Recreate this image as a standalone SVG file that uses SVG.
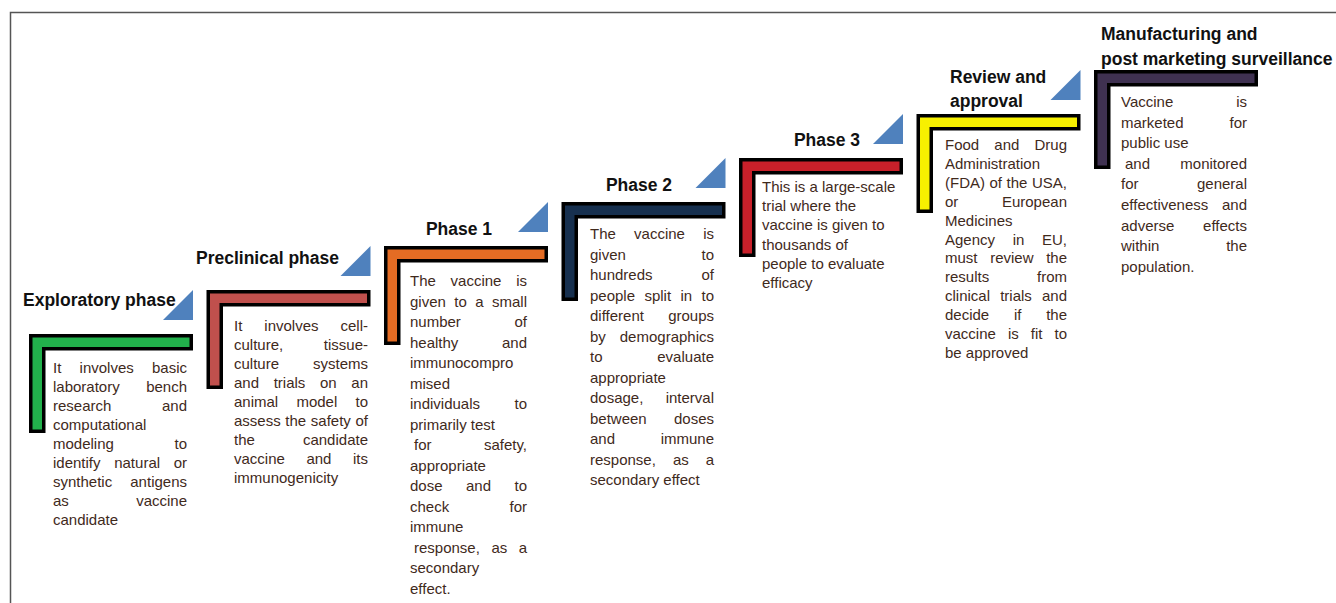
<svg xmlns="http://www.w3.org/2000/svg" xmlns:xlink="http://www.w3.org/1999/xlink" width="1336" height="603" viewBox="0 0 1336 603">
<style>
.body{font-family:"Liberation Sans",Arial,sans-serif;font-size:15px;fill:#3f2a1c}
.title{font-family:"Liberation Sans",Arial,sans-serif;font-size:17.5px;font-weight:bold;fill:#111}
.tri{fill:#4f81bd}
.L{stroke:#000;stroke-width:3.5;stroke-linejoin:miter}
.e{text-anchor:end}
</style>
<defs>
<path id="Lshape" d="M0,0 H160.5 V13 H13 V95.5 H0 Z"/>
<path id="tri" d="M-30,0 H0 V-30 Z"/>
</defs>
<rect width="1336" height="603" fill="#fff"/>
<path d="M10.5,603 V12.5 H1336" fill="none" stroke="#555" stroke-width="1.5"/>

<g id="connectors">
<use xlink:href="#tri" class="tri" transform="translate(193,320)"/>
<use xlink:href="#tri" class="tri" transform="translate(370.5,276)"/>
<use xlink:href="#tri" class="tri" transform="translate(548,232)"/>
<use xlink:href="#tri" class="tri" transform="translate(725.5,188)"/>
<use xlink:href="#tri" class="tri" transform="translate(903,144)"/>
<use xlink:href="#tri" class="tri" transform="translate(1080.5,100)"/>
</g>

<g id="exploratory">
<use xlink:href="#Lshape" class="L" fill="#22b14c" transform="translate(30.75,335.75)"/>
<text class="title" x="23" y="306">Exploratory phase</text>
<text class="body" y="373"><tspan x="53">It</tspan><tspan x="79.6">involves</tspan><tspan x="187" class="e">basic</tspan></text>
<text class="body" y="392"><tspan x="53">laboratory</tspan><tspan x="187" class="e">bench</tspan></text>
<text class="body" y="411"><tspan x="53">research</tspan><tspan x="187" class="e">and</tspan></text>
<text class="body" x="53" y="430">computational</text>
<text class="body" y="449"><tspan x="53">modeling</tspan><tspan x="187" class="e">to</tspan></text>
<text class="body" y="468"><tspan x="53">identify</tspan><tspan x="114.2">natural</tspan><tspan x="187" class="e">or</tspan></text>
<text class="body" y="487"><tspan x="53">synthetic</tspan><tspan x="187" class="e">antigens</tspan></text>
<text class="body" y="506"><tspan x="53">as</tspan><tspan x="187" class="e">vaccine</tspan></text>
<text class="body" x="53" y="525">candidate</text>
</g>

<g id="preclinical">
<use xlink:href="#Lshape" class="L" fill="#c0504d" transform="translate(208.25,291.75)"/>
<text class="title" x="196" y="264">Preclinical phase</text>
<text class="body" y="331"><tspan x="234">It</tspan><tspan x="264.3">involves</tspan><tspan x="368" class="e">cell-</tspan></text>
<text class="body" y="350"><tspan x="234">culture,</tspan><tspan x="368" class="e">tissue-</tspan></text>
<text class="body" y="369"><tspan x="234">culture</tspan><tspan x="368" class="e">systems</tspan></text>
<text class="body" y="388"><tspan x="234">and</tspan><tspan x="273.7">trials</tspan><tspan x="320">on</tspan><tspan x="368" class="e">an</tspan></text>
<text class="body" y="407"><tspan x="234">animal</tspan><tspan x="296.4">model</tspan><tspan x="368" class="e">to</tspan></text>
<text class="body" y="426"><tspan x="234">assess</tspan><tspan x="285.3">the</tspan><tspan x="310.8">safety</tspan><tspan x="368" class="e">of</tspan></text>
<text class="body" y="445"><tspan x="234">the</tspan><tspan x="368" class="e">candidate</tspan></text>
<text class="body" y="464"><tspan x="234">vaccine</tspan><tspan x="306.4">and</tspan><tspan x="368" class="e">its</tspan></text>
<text class="body" x="234" y="483">immunogenicity</text>
</g>

<g id="phase1">
<use xlink:href="#Lshape" class="L" fill="#e46c24" transform="translate(385.75,247.75)"/>
<text class="title" x="459" y="235" text-anchor="middle">Phase 1</text>
<text class="body" y="286"><tspan x="410">The</tspan><tspan x="450.6">vaccine</tspan><tspan x="527" class="e">is</tspan></text>
<text class="body" y="306.5"><tspan x="410">given</tspan><tspan x="454.3">to</tspan><tspan x="475.2">a</tspan><tspan x="527" class="e">small</tspan></text>
<text class="body" y="327"><tspan x="410">number</tspan><tspan x="527" class="e">of</tspan></text>
<text class="body" y="347.5"><tspan x="410">healthy</tspan><tspan x="527" class="e">and</tspan></text>
<text class="body" x="410" y="368">immunocompro</text>
<text class="body" x="410" y="388.5">mised</text>
<text class="body" y="409"><tspan x="410">individuals</tspan><tspan x="527" class="e">to</tspan></text>
<text class="body" x="410" y="429.5">primarily test</text>
<text class="body" y="450"><tspan x="414">for</tspan><tspan x="527" class="e">safety,</tspan></text>
<text class="body" x="410" y="470.5">appropriate</text>
<text class="body" y="491"><tspan x="410">dose</tspan><tspan x="466">and</tspan><tspan x="527" class="e">to</tspan></text>
<text class="body" y="511.5"><tspan x="410">check</tspan><tspan x="527" class="e">for</tspan></text>
<text class="body" x="410" y="532">immune</text>
<text class="body" y="552.5"><tspan x="414">response,</tspan><tspan x="491.4">as</tspan><tspan x="527" class="e">a</tspan></text>
<text class="body" x="410" y="573">secondary</text>
<text class="body" x="410" y="593.5">effect.</text>
</g>

<g id="phase2">
<use xlink:href="#Lshape" class="L" fill="#17304f" transform="translate(563.25,203.75)"/>
<text class="title" x="639" y="191" text-anchor="middle">Phase 2</text>
<text class="body" y="239"><tspan x="590">The</tspan><tspan x="634.1">vaccine</tspan><tspan x="714" class="e">is</tspan></text>
<text class="body" y="259.5"><tspan x="590">given</tspan><tspan x="714" class="e">to</tspan></text>
<text class="body" y="280"><tspan x="590">hundreds</tspan><tspan x="714" class="e">of</tspan></text>
<text class="body" y="300.5"><tspan x="590">people</tspan><tspan x="644.4">split</tspan><tspan x="680.4">in</tspan><tspan x="714" class="e">to</tspan></text>
<text class="body" y="321"><tspan x="590">different</tspan><tspan x="714" class="e">groups</tspan></text>
<text class="body" y="341.5"><tspan x="590">by</tspan><tspan x="714" class="e">demographics</tspan></text>
<text class="body" y="362"><tspan x="590">to</tspan><tspan x="714" class="e">evaluate</tspan></text>
<text class="body" x="590" y="382.5">appropriate</text>
<text class="body" y="403"><tspan x="590">dosage,</tspan><tspan x="714" class="e">interval</tspan></text>
<text class="body" y="423.5"><tspan x="590">between</tspan><tspan x="714" class="e">doses</tspan></text>
<text class="body" y="444"><tspan x="590">and</tspan><tspan x="714" class="e">immune</tspan></text>
<text class="body" y="464.5"><tspan x="590">response,</tspan><tspan x="672.9">as</tspan><tspan x="714" class="e">a</tspan></text>
<text class="body" x="590" y="485">secondary effect</text>
</g>

<g id="phase3">
<use xlink:href="#Lshape" class="L" fill="#c8202a" transform="translate(740.75,159.75)"/>
<text class="title" x="827" y="146" text-anchor="middle">Phase 3</text>
<text class="body" x="762" y="192">This is a large-scale</text>
<text class="body" x="762" y="211.2">trial where the</text>
<text class="body" x="762" y="230.4">vaccine is given to</text>
<text class="body" x="762" y="249.6">thousands of</text>
<text class="body" x="762" y="268.8">people to evaluate</text>
<text class="body" x="762" y="288">efficacy</text>
</g>

<g id="review">
<use xlink:href="#Lshape" class="L" fill="#f7f000" transform="translate(918.25,115.75)"/>
<text class="title" x="950" y="83">Review and</text>
<text class="title" x="950" y="107">approval</text>
<text class="body" y="150"><tspan x="945">Food</tspan><tspan x="994.3">and</tspan><tspan x="1067" class="e">Drug</tspan></text>
<text class="body" x="945" y="168.9">Administration</text>
<text class="body" y="187.8"><tspan x="945">(FDA)</tspan><tspan x="989.5">of</tspan><tspan x="1006.6">the</tspan><tspan x="1067" class="e">USA,</tspan></text>
<text class="body" y="206.7"><tspan x="945">or</tspan><tspan x="1067" class="e">European</tspan></text>
<text class="body" x="945" y="225.6">Medicines</text>
<text class="body" y="244.5"><tspan x="945">Agency</tspan><tspan x="1012.7">in</tspan><tspan x="1067" class="e">EU,</tspan></text>
<text class="body" y="263.4"><tspan x="945">must</tspan><tspan x="990.2">review</tspan><tspan x="1067" class="e">the</tspan></text>
<text class="body" y="282.3"><tspan x="945">results</tspan><tspan x="1067" class="e">from</tspan></text>
<text class="body" y="301.2"><tspan x="945">clinical</tspan><tspan x="1000.2">trials</tspan><tspan x="1067" class="e">and</tspan></text>
<text class="body" y="320.1"><tspan x="945">decide</tspan><tspan x="1013.9">if</tspan><tspan x="1067" class="e">the</tspan></text>
<text class="body" y="339"><tspan x="945">vaccine</tspan><tspan x="1007.9">is</tspan><tspan x="1030.8">fit</tspan><tspan x="1067" class="e">to</tspan></text>
<text class="body" x="945" y="357.9">be approved</text>
</g>

<g id="manufacturing">
<use xlink:href="#Lshape" class="L" fill="#3f3151" transform="translate(1095.75,71.75)"/>
<text class="title" x="1101" y="40">Manufacturing and</text>
<text class="title" x="1101" y="65">post marketing surveillance</text>
<text class="body" y="107"><tspan x="1121">Vaccine</tspan><tspan x="1247" class="e">is</tspan></text>
<text class="body" y="127.6"><tspan x="1121">marketed</tspan><tspan x="1247" class="e">for</tspan></text>
<text class="body" x="1121" y="148.2">public  use</text>
<text class="body" y="168.8"><tspan x="1125">and</tspan><tspan x="1247" class="e">monitored</tspan></text>
<text class="body" y="189.4"><tspan x="1121">for</tspan><tspan x="1247" class="e">general</tspan></text>
<text class="body" y="210"><tspan x="1121">effectiveness</tspan><tspan x="1247" class="e">and</tspan></text>
<text class="body" y="230.6"><tspan x="1121">adverse</tspan><tspan x="1247" class="e">effects</tspan></text>
<text class="body" y="251.2"><tspan x="1121">within</tspan><tspan x="1247" class="e">the</tspan></text>
<text class="body" x="1121" y="271.8">population.</text>
</g>
</svg>
